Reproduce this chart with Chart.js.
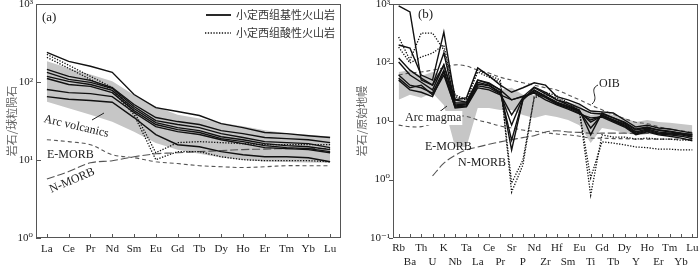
<!DOCTYPE html>
<html><head><meta charset="utf-8">
<script src="https://cdn.jsdelivr.net/npm/chart.js@4/dist/chart.umd.min.js"></script>
<style>
html,body{margin:0;padding:0;background:#fff;}
#wrap{position:relative;width:700px;height:265px;overflow:hidden;}
#ca{position:absolute;left:0;top:0;}
#cb{position:absolute;left:350px;top:0;}
</style></head><body>
<div id="wrap"><canvas id="ca" width="345" height="265"></canvas><canvas id="cb" width="350" height="265"></canvas></div>
<script>
// ---------- Panel (a): chondrite-normalised REE ----------
const reeElements = ['La','Ce','Pr','Nd','Sm','Eu','Gd','Tb','Dy','Ho','Er','Tm','Yb','Lu'];
const reeTicks = [1, 10, 100, 1000];
const reeTickText = ['10⁰', '10¹', '10²', '10³'];
const reeBasic1 = [240,184,159,133,69,47,41.9,37.2,29.3,26,22.5,21.8,20.5,19.4];
const reeBasic2 = [145,118,105,85,51.5,35,31.1,28.5,23.8,21.8,19.4,18.8,18.2,16.7];
const reeBasic3 = [133,108,99,83,48.5,32,28.5,26,21.8,19.4,17.2,16.7,16.2,14.4];
const reeBasic4 = [118,102,93,78,45.7,30.2,26,23.8,19.9,18.2,16.2,15.3,14.8,13.6];
const reeBasic5 = [111,93,88,73,43,28.5,24.5,22.5,18.8,17.2,15.3,14.4,14.0,12.8];
const reeBasic6 = [80,73,71,65,40.6,26.8,23.1,21.2,18.2,16.2,14.4,14.0,13.6,12.4];
const reeBasic7 = [65,60,58,55,35,21.2,15.7,14.8,12.8,11.7,11.0,11.0,10.7,9.5];
const reeAcid1 = [226,164,118,85,42,12.4,16.7,17.2,16.7,16.2,15.7,15.7,15.7,15.7];
const reeAcid2 = [207,150,108,78,38,10.1,12.8,12.8,11.0,10.1,9.8,9.8,9.8,9.5];
const reeEMORB = [18.2,17.2,15.7,11.7,10.7,9.5,9.0,8.45,8.2,8.0,8.2,8.45,8.45,8.45];
const reeNMORB = [5.7,7.1,9.2,9.8,11.0,12.0,12.4,12.8,13.2,13.6,13.8,14.0,14.0,14.0];
const reeArcLow = [56,46,38,31,23,16.5,13.5,12,10.8,10,9.6,9.4,9.3,9.2];
const reeArcHigh = [185,150,125,102,68,48.6,38,34,30,27,24,22,21,20];

// ---------- Panel (b): primitive-mantle-normalised spider ----------
const pmElements = ['Rb','Ba','Th','U','K','Nb','Ta','La','Ce','Pr','Sr','P','Nd','Zr','Hf','Sm','Eu','Ti','Gd','Tb','Dy','Y','Ho','Er','Tm','Yb','Lu'];
const pmTicks = [0.1, 1, 10, 100, 1000];
const pmTickText = ['10⁻¹', '10⁰', '10¹', '10²', '10³'];
const pmBasic1 = [925,730,50,41,91,23,25,81,59,41,31,37,45,41,26,23,19.5,14.8,14.3,13.7,10.4,7.9,8.5,7.6,7.3,6.7,6.2];
const pmBasic2 = [199,177,61,50,332,23,21,50,43,34,23,26,38,31,23,20.3,16.7,13.7,13.2,11.3,9.6,7.3,7.9,7.0,6.7,6.2,5.8];
const pmBasic3 = [119,74,54,41,145,20.3,20.3,50,45,34,3.2,23,37,29,23,18.8,15.4,5.8,13.7,11.3,9.3,7.0,7.6,7.0,6.5,6.2,5.8];
const pmBasic4 = [102,61,46,34,91,18.8,19.5,46,41,31,4.7,23,34,26.7,21,18,14.8,7.6,12.7,10.4,8.9,6.5,7.3,6.5,6.2,6.0,5.5];
const pmBasic5 = [61,41,37,30,74,18,18.8,43,40,30,8.5,25,32.6,26,20.3,17.4,14.3,9.6,12.2,10.4,8.5,6.2,7.0,6.2,6.0,5.8,5.3];
const pmBasic6 = [54,37,41,28,61,17.4,18,40,37,29,12.7,25,31,25,19.5,16.7,13.7,10.4,12.2,10,8.2,6.0,6.7,6.0,5.8,5.5,5.0];
const pmBasic7 = [50,34,31,26,69,16.7,17.4,37,34,28,23,26.7,30,23,18.8,16,13.2,11.3,11.7,9.6,7.9,5.8,6.5,5.8,5.5,5.1,4.6];
const pmAcid1 = [273,110,319,319,164,28,23,74,61,50,0.61,1.77,26,31,27,20.3,15.4,0.54,5.8,5.3,5.3,4.9,5.1,4.9,4.9,4.7,4.7];
const pmAcid2 = [184,98,124,145,199,26,23,69,56,46,0.87,2.15,25,28,25,18.8,14.3,1.06,4.4,4.2,3.9,3.6,3.5,3.3,3.3,3.2,3.2];
const pmOIB = [61,66,69,74,81,91,87,74,66,56,50,45,41,37,34,28,23,18.8,15.5,13,11,9.5,9,8,7.2,6.8,6.4];
const pmEMORB = [8.5,8.0,8.0,9.0,10,12,12,10.4,9.3,8.2,7.6,7.0,6.7,6.3,6.0,5.8,5.5,5.1,5.1,5.0,5.0,4.9,4.9,4.9,4.9,4.9,4.9];
const pmNMORB = [null,null,null,1.15,1.9,2.6,3.2,3.6,4.0,4.4,4.8,5.2,5.6,6.5,6.8,6.5,6.4,6.2,6.2,6.2,6.2,6.1,6.1,6.1,6.1,6.1,6.0];
const pmArcLow = [23,28,25,30,18.8,3.6,3.6,16.7,16.7,15.4,15.4,12.7,11.3,12.7,11.7,10.4,8.5,4.2,7.6,7.0,6.2,5.8,6.0,5.8,5.5,5.3,5.3];
const pmArcHigh = [69,74,59,69,61,25,25,37,37,34,37,28,28,25,23,21,18.8,12.7,14.3,12.7,11.3,9.6,10.4,9.6,9.3,8.9,8.5];

// ---------- styles ----------
const SERIF = '"Liberation Serif", "DejaVu Serif", serif';
const CJK = '"Noto Sans CJK SC", sans-serif';
const BAND = '#c6c6c6';
function solid(d){ return {data:d, borderColor:'#111', borderWidth:1.4, pointRadius:0, fill:false, tension:0, order:0}; }
function dotted(d){ return {data:d, borderColor:'#111', borderWidth:1.3, borderDash:[1.3,1.5], pointRadius:0, fill:false, tension:0, order:0}; }
function dashed(d, dash){ return {data:d, borderColor:'#555', borderWidth:1.1, borderDash:dash, pointRadius:0, fill:false, tension:0.35, order:1}; }
function bandLow(d){ return {data:d, borderWidth:0, borderColor:BAND, pointRadius:0, fill:false, tension:0, order:5}; }
function bandHigh(d){ return {data:d, borderWidth:0, borderColor:BAND, backgroundColor:BAND, pointRadius:0, fill:'-1', tension:0, order:5}; }

function framePlugin(tickOut){
  return {id:'frame', afterDraw(chart){
    const {ctx, chartArea:a, scales} = chart;
    ctx.save();
    ctx.strokeStyle = '#555'; ctx.lineWidth = 1;
    ctx.strokeRect(Math.round(a.left)+0.5, Math.round(a.top)+0.5, Math.round(a.right-a.left)-1, Math.round(a.bottom-a.top)-1);
    ctx.beginPath();
    scales.y.ticks.forEach(t => {
      const y = Math.round(scales.y.getPixelForValue(t.value))+0.5;
      const x0 = Math.round(a.left);
      if (tickOut) { ctx.moveTo(x0-4, y); ctx.lineTo(x0, y); }
      else { ctx.moveTo(x0, y); ctx.lineTo(x0+5, y); }
    });
    scales.x.ticks.forEach((t,i) => {
      const x = Math.round(scales.x.getPixelForTick(i))+0.5;
      const yb = Math.round(a.bottom);
      ctx.moveTo(x, yb); ctx.lineTo(x, yb-4);
    });
    ctx.stroke();
    ctx.restore();
  }};
}
function notesPlugin(items, paths){
  return {id:'notes', afterDatasetsDraw(chart){
    const ctx = chart.ctx;
    paths.forEach(p => {
      ctx.save(); ctx.strokeStyle = p.color || '#222'; ctx.lineWidth = p.w || 1;
      ctx.setLineDash(p.dash || []);
      ctx.beginPath(); p.draw(ctx); ctx.stroke(); ctx.restore();
    });
    items.forEach(it => {
      ctx.save();
      ctx.translate(it.x, it.y);
      if (it.rot) ctx.rotate(it.rot*Math.PI/180);
      ctx.font = it.font || ('12px ' + SERIF);
      ctx.textAlign = it.align || 'left';
      ctx.textBaseline = 'middle';
      if (it.bg) {
        const w = ctx.measureText(it.text).width;
        ctx.fillStyle = '#fff'; ctx.fillRect(-1, -7, w+2, 14);
      }
      ctx.fillStyle = it.color || '#222';
      ctx.fillText(it.text, 0, 0);
      ctx.restore();
    });
  }};
}

function makeOptions(cfg){
  return {
    responsive:false, animation:false, devicePixelRatio:1, events:[],
    layout:{padding:{top:4, right:cfg.padRight, left:0, bottom:0}},
    plugins:{legend:{display:false}, tooltip:{enabled:false}},
    scales:{
      x:{type:'category', offset:true,
         grid:{display:false, drawTicks:false}, border:{display:false},
         ticks:{color:'#222', padding:cfg.xPad, autoSkip:false, maxRotation:0, minRotation:0,
                font:{family:SERIF, size:11, lineHeight:1.2}},
         afterFit(s){ s.height = 27; s.paddingLeft = 0; s.paddingRight = 0; }},
      y:{type:'logarithmic', min:cfg.min, max:cfg.max,
         grid:{display:false, drawTicks:false}, border:{display:false},
         afterBuildTicks(s){ s.ticks = cfg.ticks.map(v => ({value:v, major:true})); },
         ticks:{color:'#222', padding:3, font:{family:SERIF, size:11},
                callback:(v,i) => cfg.tickText[i]},
         title:{display:true, text:cfg.title, color:'#666', font:{family:CJK, size:11}, padding:{top:5, bottom:0}},
         afterFit(s){ s.width = cfg.yWidth; s.paddingTop = 0; s.paddingBottom = 0; }}
    }
  };
}

// ---------- Chart (a) ----------
new Chart(document.getElementById('ca'), {
  type:'line',
  data:{
    labels: reeElements,
    datasets:[
      solid(reeBasic1), solid(reeBasic2), solid(reeBasic3), solid(reeBasic4),
      solid(reeBasic5), solid(reeBasic6), solid(reeBasic7),
      dotted(reeAcid1), dotted(reeAcid2),
      dashed(reeEMORB, [4,3]), dashed(reeNMORB, [8,3]),
      bandLow(reeArcLow), bandHigh(reeArcHigh)
    ]
  },
  options: makeOptions({padRight:4, xPad:5, min:1, max:1000, ticks:reeTicks, tickText:reeTickText, title:'岩石/球粒陨石', yWidth:36}),
  plugins:[framePlugin(false), notesPlugin([
    {text:'(a)', x:42, y:18, font:'13px '+SERIF},
    {text:'Arc volcanics', x:44, y:119, rot:13},
    {text:'E-MORB', x:47, y:155},
    {text:'N-MORB', x:50, y:190, rot:-23},
    {text:'小定西组基性火山岩', x:236, y:15, font:'11px '+CJK, color:'#333'},
    {text:'小定西组酸性火山岩', x:236, y:33, font:'11px '+CJK, color:'#333'}
  ], [
    {draw:c => {c.moveTo(92,120); c.lineTo(104,113);}},
    {w:1.8, color:'#111', draw:c => {c.moveTo(206,15); c.lineTo(231,15);}},
    {w:1.3, color:'#111', dash:[1.3,1.5], draw:c => {c.moveTo(205,33); c.lineTo(231,33);}}
  ])]
});

// ---------- Chart (b) ----------
const pmLabels = pmElements.map((e,i) => i % 2 === 0 ? [e] : ['', e]);
new Chart(document.getElementById('cb'), {
  type:'line',
  data:{
    labels: pmLabels,
    datasets:[
      solid(pmBasic1), solid(pmBasic2), solid(pmBasic3), solid(pmBasic4),
      solid(pmBasic5), solid(pmBasic6), solid(pmBasic7),
      dotted(pmAcid1), dotted(pmAcid2),
      dashed(pmOIB, [4,3]), dashed(pmEMORB, [4,3]), dashed(pmNMORB, [8,3]),
      bandLow(pmArcLow), bandHigh(pmArcHigh)
    ]
  },
  options: makeOptions({padRight:2, xPad:4, min:0.1, max:1000, ticks:pmTicks, tickText:pmTickText, title:'岩石/原始地幔', yWidth:43}),
  plugins:[framePlugin(true), notesPlugin([
    {text:'(b)', x:68, y:15, font:'13px '+SERIF},
    {text:'OIB', x:249, y:84},
    {text:'Arc magma', x:55, y:118, bg:true},
    {text:'E-MORB', x:75, y:147},
    {text:'N-MORB', x:108, y:163}
  ], [
    {draw:c => {c.moveTo(88,113); c.lineTo(97,106);}},
    {draw:c => {c.moveTo(248,85); c.bezierCurveTo(238,90, 250,97, 242,104);}}
  ])]
});
</script>
</body></html>
